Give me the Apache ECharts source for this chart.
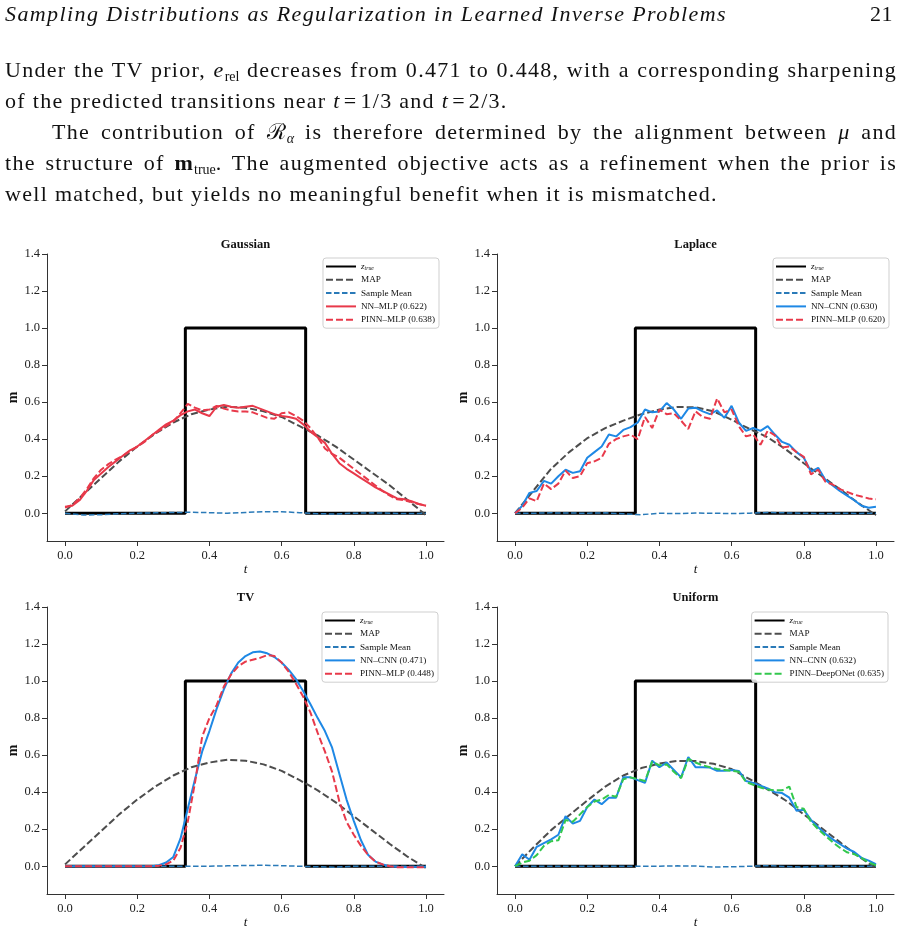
<!DOCTYPE html>
<html>
<head>
<meta charset="utf-8">
<script src="https://cdn.jsdelivr.net/npm/echarts@6/dist/echarts.min.js"></script>
<style>
  body { margin: 0; background: #fff; }
  #page { position: relative; width: 901px; height: 932px; overflow: hidden; }
  #chart { position: absolute; left: 0; top: 0; width: 901px; height: 932px; }
  #text { position: absolute; left: 5px; top: 0; width: 892px; font-family: "Liberation Serif", "Times New Roman", serif; font-size: 22px; color: #111; letter-spacing: 1.3px; }
  .ln { position: absolute; left: 0; width: 892px; height: 31px; line-height: 31px; white-space: nowrap; }
  .j { text-align: justify; text-align-last: justify; white-space: normal; }
  .ln sub { font-size: 14px; line-height: 0; vertical-align: -4px; letter-spacing: 0; }
  .hdr { font-size: 22px; letter-spacing: 1.4px; }
  .pg { position: absolute; right: 4px; top: 0; font-style: normal; letter-spacing: 0.5px; }
  .m { padding: 0 3px; }
</style>
</head>
<body>
<div id="page">
  <div id="chart"></div>
  <div id="text">
    <div class="ln hdr" style="top:-2px"><i>Sampling Distributions as Regularization in Learned Inverse Problems</i><span class="pg">21</span></div>
    <div class="ln j" style="top:54px">Under the TV prior, <i>e</i><sub>rel</sub> decreases from 0.471 to 0.448, with a corresponding sharpening</div>
    <div class="ln" style="top:85px">of the predicted transitions near <i>t</i><span class="m">=</span>1/3 and <i>t</i><span class="m">=</span>2/3.</div>
    <div class="ln j" style="top:116px; left:47px; width:845px">The contribution of ℛ<sub><i>α</i></sub> is therefore determined by the alignment between <i>μ</i> and</div>
    <div class="ln j" style="top:147px">the structure of <b>m</b><sub>true</sub>. The augmented objective acts as a refinement when the prior is</div>
    <div class="ln" style="top:178px">well matched, but yields no meaningful benefit when it is mismatched.</div>
  </div>
</div>
<script>
// sample grids
const tFine = [0, 0.02, 0.04, 0.06, 0.08, 0.1, 0.12, 0.14, 0.16, 0.18, 0.2, 0.22, 0.24, 0.26, 0.28, 0.3, 0.32, 0.34, 0.36, 0.38, 0.4,
  0.42, 0.44, 0.46, 0.48, 0.5, 0.52, 0.54, 0.56, 0.58, 0.6, 0.62, 0.64, 0.66, 0.68, 0.7, 0.72, 0.74, 0.76, 0.78, 0.8,
  0.82, 0.84, 0.86, 0.88, 0.9, 0.92, 0.94, 0.96, 0.98, 1.0];
const tCoarse = [0, 0.05, 0.1, 0.15, 0.2, 0.25, 0.3, 0.35, 0.4, 0.45, 0.5, 0.55, 0.6, 0.65, 0.7, 0.75, 0.8, 0.85, 0.9, 0.95, 1.0];

// ground truth step
const truthT = [0, 1 / 3, 1 / 3, 2 / 3, 2 / 3, 1];
const truthM = [0, 0, 1, 1, 0, 0];

// Gaussian
const gaussMAP = [0.01, 0.10, 0.19, 0.28, 0.36, 0.43, 0.49, 0.535, 0.56, 0.575, 0.57, 0.55, 0.52, 0.47, 0.42, 0.36, 0.29, 0.22, 0.15, 0.07, -0.01];
const gaussMean = [0, -0.01, -0.008, -0.003, 0, 0.002, 0.004, 0.005, 0.003, 0.0, 0.004, 0.008, 0.008, 0.003, -0.003, -0.004, 0.0, 0.002, 0.0, -0.002, 0.0];
const gaussNN = [0.035, 0.04, 0.07, 0.12, 0.18, 0.215, 0.25, 0.28, 0.31, 0.34, 0.36, 0.39, 0.42, 0.45, 0.48, 0.50, 0.53, 0.55, 0.56, 0.54, 0.525,
  0.575, 0.585, 0.575, 0.57, 0.575, 0.58, 0.565, 0.55, 0.535, 0.525, 0.52, 0.51, 0.48, 0.44, 0.41, 0.38, 0.32, 0.27, 0.24, 0.215,
  0.19, 0.165, 0.14, 0.12, 0.10, 0.08, 0.075, 0.065, 0.05, 0.04];
const gaussPINN = [0.03, 0.045, 0.08, 0.13, 0.19, 0.235, 0.265, 0.29, 0.31, 0.335, 0.36, 0.385, 0.42, 0.445, 0.47, 0.495, 0.54, 0.59, 0.57, 0.555, 0.56,
  0.58, 0.565, 0.555, 0.55, 0.55, 0.545, 0.53, 0.515, 0.51, 0.54, 0.545, 0.525, 0.50, 0.46, 0.41, 0.35, 0.32, 0.30, 0.27, 0.24,
  0.21, 0.18, 0.15, 0.12, 0.095, 0.075, 0.07, 0.06, 0.05, 0.04];

// Laplace
const lapMAP = [0.0, 0.12, 0.24, 0.33, 0.405, 0.46, 0.50, 0.535, 0.56, 0.574, 0.572, 0.55, 0.505, 0.455, 0.41, 0.345, 0.27, 0.20, 0.13, 0.056, -0.01];
const lapMean = [0, 0, 0.002, 0.001, 0, 0.002, -0.003, -0.008, 0, -0.002, 0.001, 0, -0.002, 0, 0.004, 0.002, 0, -0.002, 0, -0.001, 0];
const lapNN = [0, 0.04, 0.11, 0.12, 0.175, 0.16, 0.20, 0.235, 0.218, 0.227, 0.30, 0.33, 0.36, 0.425, 0.415, 0.45, 0.465, 0.49, 0.56, 0.545, 0.55,
  0.595, 0.56, 0.51, 0.565, 0.57, 0.55, 0.535, 0.555, 0.515, 0.58, 0.49, 0.445, 0.46, 0.445, 0.47, 0.425, 0.385, 0.37, 0.33, 0.30,
  0.225, 0.245, 0.18, 0.15, 0.12, 0.095, 0.07, 0.04, 0.03, 0.035];
const lapPINN = [0, 0.03, 0.08, 0.065, 0.16, 0.13, 0.16, 0.23, 0.19, 0.20, 0.27, 0.28, 0.30, 0.375, 0.40, 0.415, 0.425, 0.40, 0.52, 0.46, 0.56,
  0.535, 0.54, 0.50, 0.455, 0.55, 0.52, 0.51, 0.62, 0.545, 0.56, 0.47, 0.415, 0.425, 0.37, 0.445, 0.42, 0.355, 0.36, 0.33, 0.305,
  0.21, 0.235, 0.17, 0.155, 0.13, 0.115, 0.10, 0.09, 0.08, 0.075];

// TV
const tvMAP = [0.01, 0.10, 0.19, 0.28, 0.36, 0.43, 0.49, 0.535, 0.56, 0.575, 0.57, 0.55, 0.515, 0.465, 0.41, 0.345, 0.27, 0.195, 0.12, 0.05, -0.01];
const tvMean = [0, 0, 0, 0, 0, 0, 0, 0, 0, 0.002, 0.004, 0.005, 0.003, 0, -0.003, -0.005, 0, 0, 0, 0, 0];
const tvNN = [0, 0, 0, 0, 0, 0, 0, 0, 0, 0, 0, 0, 0, 0.005, 0.02, 0.05, 0.15, 0.31, 0.47, 0.62, 0.73,
  0.85, 0.955, 1.04, 1.10, 1.135, 1.155, 1.16, 1.15, 1.13, 1.10, 1.06, 1.01, 0.945, 0.875, 0.80, 0.73, 0.64, 0.50, 0.36, 0.245,
  0.14, 0.06, 0.025, 0.01, 0.0, -0.003, -0.004, -0.004, -0.003, -0.003];
const tvPINN = [0, 0, 0, 0, 0, 0, 0, 0, 0, 0, 0, 0, 0, 0.003, 0.01, 0.03, 0.10, 0.24, 0.45, 0.70, 0.80,
  0.87, 0.97, 1.035, 1.08, 1.105, 1.115, 1.125, 1.14, 1.135, 1.10, 1.05, 0.985, 0.915, 0.83, 0.72, 0.62, 0.51, 0.35, 0.24, 0.17,
  0.11, 0.06, 0.025, 0.01, 0.0, -0.005, -0.005, -0.005, -0.005, -0.005];

// Uniform
const uniMAP = [0.0, 0.10, 0.195, 0.275, 0.355, 0.43, 0.49, 0.53, 0.555, 0.569, 0.568, 0.553, 0.525, 0.47, 0.415, 0.355, 0.28, 0.205, 0.13, 0.055, -0.01];
const uniMean = [0, 0, 0, 0, 0, 0, 0, 0, 0, 0.002, 0.001, -0.004, -0.003, 0, 0.003, -0.002, -0.004, 0.002, -0.002, 0, 0];
const uniNN = [0, 0.065, 0.035, 0.105, 0.125, 0.145, 0.17, 0.27, 0.23, 0.245, 0.32, 0.36, 0.335, 0.37, 0.37, 0.48, 0.48, 0.465, 0.45, 0.57, 0.535,
  0.56, 0.52, 0.48, 0.59, 0.535, 0.535, 0.533, 0.515, 0.515, 0.52, 0.515, 0.46, 0.45, 0.435, 0.42, 0.40, 0.395, 0.37, 0.30, 0.305,
  0.25, 0.21, 0.175, 0.145, 0.12, 0.095, 0.077, 0.045, 0.03, 0.011];
const uniPINN = [0, 0.02, 0.03, 0.06, 0.11, 0.135, 0.14, 0.25, 0.24, 0.28, 0.32, 0.35, 0.36, 0.385, 0.375, 0.47, 0.48, 0.47, 0.46, 0.565, 0.545,
  0.55, 0.51, 0.475, 0.58, 0.56, 0.545, 0.535, 0.525, 0.52, 0.515, 0.51, 0.455, 0.44, 0.425, 0.415, 0.41, 0.41, 0.43, 0.32, 0.31,
  0.24, 0.20, 0.165, 0.13, 0.10, 0.075, 0.065, 0.045, 0.02, 0.005];

// panel titles and legend labels
const titles = ['Gaussian', 'Laplace', 'TV', 'Uniform'];
const nnNames = ['NN–MLP (0.622)', 'NN–CNN (0.630)', 'NN–CNN (0.471)', 'NN–CNN (0.632)'];
const pinnNames = ['PINN–MLP (0.638)', 'PINN–MLP (0.620)', 'PINN–MLP (0.448)', 'PINN–DeepONet (0.635)'];
const xTicks = [0, 0.2, 0.4, 0.6, 0.8, 1.0];
const yTicks = [0, 0.2, 0.4, 0.6, 0.8, 1.0, 1.2, 1.4];

const FONT = '"Liberation Serif", "Times New Roman", serif';
const RED = '#e8394a', BLUE = '#1e88e5', GREEN = '#33c84d', GREY = '#4d4d4d', MEANBLUE = '#2a7ab8';

const panels = [
  { map: gaussMAP, mean: gaussMean, nn: gaussNN, pinn: gaussPINN, nnColor: RED, pinnColor: RED },
  { map: lapMAP, mean: lapMean, nn: lapNN, pinn: lapPINN, nnColor: BLUE, pinnColor: RED },
  { map: tvMAP, mean: tvMean, nn: tvNN, pinn: tvPINN, nnColor: BLUE, pinnColor: RED },
  { map: uniMAP, mean: uniMean, nn: uniNN, pinn: uniPINN, nnColor: BLUE, pinnColor: GREEN }
];

// layout of the 2x2 figure
const grids = [
  { left: 47, top: 254, width: 397, height: 287 },
  { left: 497, top: 254, width: 397, height: 287 },
  { left: 47, top: 607, width: 397, height: 287 },
  { left: 497, top: 607, width: 397, height: 287 }
];
const legendPos = [
  { right: 462, top: 258 },
  { right: 12, top: 258 },
  { right: 463, top: 612 },
  { right: 13, top: 612 }
];

function pairs(xs, ys) {
  return xs.map((x, i) => [x, ys[i]]);
}

function line(name, xs, ys, idx, style) {
  return {
    name: name,
    type: 'line',
    xAxisIndex: idx,
    yAxisIndex: idx,
    data: pairs(xs, ys),
    symbol: 'none',
    showSymbol: false,
    itemStyle: { color: style.color },
    lineStyle: style,
    silent: true,
    animation: false
  };
}

let series = [], xAxis = [], yAxis = [], legend = [], graphic = [];

panels.forEach((p, i) => {
  series.push(line('z_true', truthT, truthM, i, { color: '#000', width: 3 }));
  series.push(line('MAP', tCoarse, p.map, i, { color: GREY, width: 2, type: [7, 3] }));
  series.push(line('Sample Mean', tCoarse, p.mean, i, { color: MEANBLUE, width: 1.5, type: [5.5, 2.5] }));
  series.push(line(nnNames[i], tFine, p.nn, i, { color: p.nnColor, width: 2 }));
  series.push(line(pinnNames[i], tFine, p.pinn, i, { color: p.pinnColor, width: 2, type: [7, 3] }));

  xAxis.push({
    type: 'value', gridIndex: i, min: -0.05, max: 1.05,
    axisLine: { show: true, onZero: false, lineStyle: { color: '#333', width: 1 } },
    axisTick: { show: true, length: 5, customValues: xTicks, lineStyle: { color: '#333' } },
    axisLabel: { customValues: xTicks, formatter: v => v.toFixed(1), fontFamily: FONT, fontSize: 12.5, color: '#222', margin: 8 },
    splitLine: { show: false },
    name: 't', nameLocation: 'middle', nameGap: 22,
    nameTextStyle: { fontFamily: FONT, fontStyle: 'italic', fontSize: 13, color: '#111' }
  });
  yAxis.push({
    type: 'value', gridIndex: i, min: -0.15, max: 1.4,
    axisLine: { show: true, onZero: false, lineStyle: { color: '#333', width: 1 } },
    axisTick: { show: true, length: 5, customValues: yTicks, lineStyle: { color: '#333' } },
    axisLabel: { customValues: yTicks, formatter: v => v.toFixed(1), fontFamily: FONT, fontSize: 12.5, color: '#222', margin: 7 },
    splitLine: { show: false },
    name: 'm', nameLocation: 'middle', nameGap: 22,
    nameTextStyle: { fontFamily: FONT, fontWeight: 'bold', fontSize: 14, color: '#111' }
  });
  legend.push({
    orient: 'vertical',
    right: legendPos[i].right, top: legendPos[i].top,
    data: ['z_true', 'MAP', 'Sample Mean', nnNames[i], pinnNames[i]],
    selectedMode: false,
    itemWidth: 30, itemHeight: 10, itemGap: 2.3,
    itemStyle: { opacity: 0, borderWidth: 0 },
    padding: [3, 4, 3, 2],
    borderColor: '#cfcfcf', borderWidth: 1, borderRadius: 3,
    backgroundColor: 'rgba(255,255,255,0.85)',
    formatter: name => name === 'z_true' ? '{z|z}{s|true}' : name,
    textStyle: {
      fontFamily: FONT, fontSize: 9.2, color: '#111', lineHeight: 11,
      rich: {
        z: { fontFamily: FONT, fontStyle: 'italic', fontSize: 9.2, lineHeight: 11 },
        s: { fontFamily: FONT, fontStyle: 'italic', fontSize: 5.8, lineHeight: 11, padding: [3, 0, 0, 0] }
      }
    }
  });
  const g = grids[i];
  graphic.push({
    type: 'text', x: g.left + g.width / 2, y: g.top - 9,
    style: { text: titles[i], align: 'center', verticalAlign: 'middle', font: 'bold 12.5px ' + FONT, fill: '#111' }
  });
});

const chart = echarts.init(document.getElementById('chart'), null, { renderer: 'canvas' });
chart.setOption({
  animation: false,
  backgroundColor: '#fff',
  grid: grids,
  xAxis: xAxis,
  yAxis: yAxis,
  legend: legend,
  graphic: graphic,
  series: series
});
</script>
</body>
</html>
